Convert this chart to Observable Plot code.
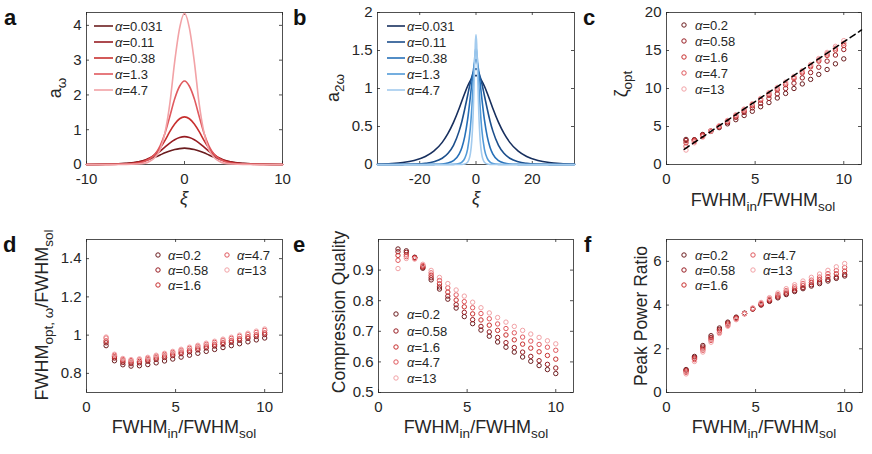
<!DOCTYPE html>
<html><head><meta charset="utf-8">
<script src="https://cdn.jsdelivr.net/npm/d3@7"></script>
<script src="https://cdn.jsdelivr.net/npm/@observablehq/plot@0.6"></script>
<style>
body{margin:0;background:#fff}
#fig{position:relative;width:872px;height:454px;background:#fff;overflow:hidden}
</style>
</head><body><div id="fig"></div>
<script>
// ---------- DATA ----------
const alphasAB = ["0.031", "0.11", "0.38", "1.3", "4.7"];
const alphasS = ["0.2", "0.58", "1.6", "4.7", "13"];

// panel a
const aXi = [-10,-8,-7,-6,-5,-4,-3.5,-3,-2.5,-2,-1.5,-1,-0.5,0,0.5,1,1.5,2,2.5,3,3.5,4,5,6,7,8,10];
const aY_0031 = [0.002,0.0075,0.014,0.031,0.06,0.119,0.16,0.213,0.273,0.335,0.389,0.429,0.456,0.47,0.456,0.429,0.389,0.335,0.273,0.213,0.16,0.119,0.06,0.031,0.014,0.0075,0.002];
const aY_011 = [0.001,0.006,0.010,0.024,0.057,0.131,0.192,0.272,0.379,0.50,0.616,0.71,0.774,0.80,0.774,0.71,0.616,0.50,0.379,0.272,0.192,0.131,0.057,0.024,0.010,0.006,0.001];
const aY_038 = [0,0.003,0.008,0.014,0.041,0.11,0.185,0.30,0.466,0.685,0.945,1.165,1.315,1.37,1.315,1.165,0.945,0.685,0.466,0.30,0.185,0.11,0.041,0.014,0.008,0.003,0];
const aY_13 = [0,0,0.004,0.012,0.024,0.096,0.17,0.30,0.53,0.89,1.38,1.89,2.25,2.4,2.25,1.89,1.38,0.89,0.53,0.30,0.17,0.096,0.024,0.012,0.004,0,0];
const aY_47 = [0,0,0,0.003,0.013,0.04,0.10,0.21,0.42,0.90,1.74,2.96,3.92,4.35,3.92,2.96,1.74,0.90,0.42,0.21,0.10,0.04,0.013,0.003,0,0,0];

// panel b
const bXi = [-35,-30,-26,-22,-18,-15,-12,-10,-8,-6,-5,-4,-3,-2,-1.5,-1,-0.5,-0.25,0,0.25,0.5,1,1.5,2,3,4,5,6,8,10,12,15,18,22,26,30,35];
const bY_0031 = [0.006,0.013,0.026,0.053,0.105,0.175,0.291,0.405,0.554,0.736,0.839,0.938,1.029,1.104,1.132,1.153,1.166,1.169,1.17,1.169,1.166,1.153,1.132,1.104,1.029,0.938,0.839,0.736,0.554,0.405,0.291,0.175,0.105,0.053,0.026,0.013,0.006];
const bY_011 = [0,0.001,0.002,0.005,0.015,0.035,0.082,0.144,0.253,0.439,0.570,0.730,0.905,1.079,1.153,1.210,1.247,1.257,1.26,1.257,1.247,1.210,1.153,1.079,0.905,0.730,0.570,0.439,0.253,0.144,0.082,0.035,0.015,0.005,0.002,0.001,0];
const bY_038 = [0,0,0,0,0,0.002,0.007,0.019,0.051,0.137,0.225,0.367,0.587,0.894,1.066,1.223,1.338,1.369,1.38,1.369,1.338,1.223,1.066,0.894,0.587,0.367,0.225,0.137,0.051,0.019,0.007,0.002,0,0,0,0,0];
const bY_13 = [0,0,0,0,0,0,0,0,0.002,0.013,0.032,0.081,0.199,0.484,0.735,1.060,1.385,1.491,1.53,1.491,1.385,1.060,0.735,0.484,0.199,0.081,0.032,0.013,0.002,0,0,0,0,0,0,0,0];
const bY_47 = [0,0,0,0,0,0,0,0,0,0,0.001,0.006,0.029,0.143,0.314,0.671,1.284,1.583,1.71,1.583,1.284,0.671,0.314,0.143,0.029,0.006,0.001,0,0,0,0,0,0,0,0,0,0];

// shared x for scatter panels (FWHM_in / FWHM_sol)
const sX = [1.1,1.57,2.04,2.5,2.97,3.44,3.91,4.38,4.84,5.31,5.78,6.25,6.72,7.19,7.66,8.13,8.59,9.06,9.53,10];

// panel c: zeta_opt
const cY_02  = [3.3,3.25,3.95,4.35,4.85,5.35,5.9,6.45,7.0,7.6,8.15,8.75,9.35,10.0,10.6,11.2,11.85,12.5,13.25,13.9];
const cY_058 = [3.15,3.25,3.9,4.4,4.95,5.55,6.2,6.85,7.45,8.05,8.7,9.3,10.0,10.7,11.4,12.1,12.8,13.6,14.4,15.13];
const cY_16  = [2.85,3.15,3.8,4.4,5.0,5.65,6.35,7.05,7.75,8.45,9.1,9.8,10.5,11.3,12.05,12.85,13.6,14.35,15.05,15.66];
const cY_47  = [2.4,3.0,3.7,4.4,5.05,5.75,6.45,7.2,7.9,8.6,9.3,10.0,10.7,11.45,12.2,13.0,13.75,14.55,15.3,15.96];
const cY_13  = [1.9,2.85,3.6,4.4,5.1,5.8,6.55,7.3,8.0,8.7,9.45,10.15,10.85,11.6,12.35,13.15,13.95,14.75,15.55,16.3];
const cFitX = [1, 11];
const cFitY = [2.0, 17.7];

// panel d: FWHM_opt / FWHM_sol
const dY_02  = [0.945,0.866,0.845,0.838,0.84,0.846,0.855,0.865,0.875,0.885,0.895,0.905,0.915,0.925,0.935,0.945,0.955,0.965,0.975,0.985];
const dY_058 = [0.96,0.88,0.857,0.851,0.855,0.863,0.873,0.883,0.893,0.903,0.913,0.923,0.933,0.943,0.953,0.963,0.973,0.983,0.993,1.003];
const dY_16  = [0.97,0.887,0.865,0.859,0.863,0.871,0.881,0.891,0.901,0.911,0.921,0.932,0.942,0.952,0.962,0.972,0.982,0.992,1.002,1.012];
const dY_47  = [0.985,0.895,0.873,0.867,0.871,0.879,0.89,0.9,0.91,0.921,0.931,0.942,0.952,0.962,0.973,0.983,0.994,1.004,1.014,1.025];
const dY_13  = [0.99,0.90,0.878,0.872,0.876,0.884,0.895,0.905,0.915,0.926,0.937,0.947,0.958,0.968,0.979,0.989,1.0,1.01,1.021,1.032];

// panel e: compression quality
const eY_02  = [0.969,0.963,0.942,0.906,0.868,0.838,0.805,0.776,0.748,0.725,0.704,0.684,0.665,0.648,0.632,0.616,0.602,0.588,0.575,0.562];
const eY_058 = [0.960,0.958,0.941,0.909,0.875,0.845,0.815,0.787,0.762,0.738,0.716,0.698,0.680,0.663,0.647,0.632,0.618,0.604,0.592,0.580];
const eY_16  = [0.948,0.950,0.940,0.912,0.883,0.855,0.828,0.802,0.780,0.757,0.737,0.720,0.703,0.688,0.672,0.658,0.645,0.633,0.621,0.609];
const eY_47  = [0.932,0.944,0.938,0.915,0.891,0.866,0.842,0.819,0.797,0.777,0.758,0.741,0.724,0.709,0.695,0.681,0.668,0.657,0.648,0.638];
const eY_13  = [0.905,0.938,0.936,0.919,0.899,0.876,0.856,0.835,0.815,0.795,0.777,0.760,0.745,0.730,0.716,0.703,0.691,0.680,0.669,0.659];

// panel f: peak power ratio
const fY_02  = [1.05,1.65,2.15,2.6,2.95,3.22,3.45,3.63,3.82,4.0,4.17,4.33,4.48,4.62,4.75,4.87,4.98,5.1,5.22,5.33];
const fY_058 = [1.02,1.6,2.08,2.52,2.88,3.18,3.42,3.62,3.82,4.02,4.2,4.37,4.52,4.67,4.8,4.93,5.05,5.17,5.28,5.4];
const fY_16  = [0.98,1.55,2.0,2.45,2.82,3.13,3.4,3.61,3.83,4.05,4.24,4.42,4.59,4.75,4.89,5.03,5.16,5.3,5.43,5.55];
const fY_47  = [0.92,1.5,1.93,2.38,2.75,3.07,3.36,3.6,3.85,4.08,4.28,4.48,4.66,4.83,4.99,5.14,5.28,5.44,5.58,5.72];
const fY_13  = [0.85,1.42,1.85,2.3,2.7,3.03,3.33,3.6,3.87,4.12,4.34,4.55,4.75,4.93,5.1,5.27,5.42,5.59,5.75,5.9];

// ticks
const aXTicks = [-10, 0, 10], aYTicks = [0, 1, 2, 3, 4];
const bXTicks = [-20, 0, 20], bYTicks = [0, 0.5, 1, 1.5, 2];
const sXTicks = [0, 5, 10];
const cYTicks = [0, 5, 10, 15, 20];
const dYTicks = [0.8, 1, 1.2, 1.4];
const eYTicks = [0.5, 0.6, 0.7, 0.8, 0.9];
const fYTicks = [0, 2, 4, 6];

// ---------- STYLE ----------
const FONT = '"Liberation Sans", Arial, Helvetica, sans-serif';
const INK = "#262626";
const redsA = ["#6b1d1f", "#971c22", "#c8302f", "#e0595e", "#f2a2a6"];
const bluesB = ["#172f5e", "#1c4f8c", "#2670b8", "#529ad8", "#a3cbee"];
const redsS = ["#6b1d1f", "#971c22", "#c8302f", "#e0595e", "#f2a2a6"];

const fig = document.getElementById("fig");

function lineMarks(xs, ys, colors) {
  return ys.map((ya, k) => Plot.line(xs.map((x, i) => ({x, y: ya[i]})),
    {x: "x", y: "y", stroke: colors[k], strokeWidth: 1.6, curve: "monotone-x"}));
}
function dotMarks(xs, ys, colors) {
  return ys.map((ya, k) => Plot.dot(xs.map((x, i) => ({x, y: ya[i]})),
    {x: "x", y: "y", r: 2.2, stroke: colors[k], strokeWidth: 1, fill: "none"}));
}

function panel(o) {
  const fw = o.width - o.mL - o.mR, fh = o.height - o.mT - o.mB;
  const tk = {stroke: INK, strokeWidth: 0.8};
  const marks = [
    Plot.frame({stroke: INK, strokeWidth: 0.8}),
    Plot.tickX(o.xTicks, {x: d => d, insetTop: fh - 3, ...tk}),
    Plot.tickX(o.xTicks, {x: d => d, insetBottom: fh - 3, ...tk}),
    Plot.tickY(o.yTicks, {y: d => d, insetRight: fw - 3, ...tk}),
    Plot.tickY(o.yTicks, {y: d => d, insetLeft: fw - 3, ...tk}),
    Plot.axisX({ticks: o.xTicks, tickSize: 0, tickPadding: 9, tickFormat: d => String(d), label: null}),
    Plot.axisY({ticks: o.yTicks, tickSize: 0, tickPadding: 5, tickFormat: d => String(d), label: null}),
    ...o.marks
  ];
  const svg = Plot.plot({
    width: o.width, height: o.height,
    marginLeft: o.mL, marginRight: o.mR, marginTop: o.mT, marginBottom: o.mB,
    x: {domain: o.xDomain}, y: {domain: o.yDomain},
    style: {fontFamily: FONT, fontSize: "15px", color: INK, background: "transparent", overflow: "visible"},
    marks
  });
  svg.style.position = "absolute";
  svg.style.left = o.left + "px";
  svg.style.top = o.top + "px";
  fig.appendChild(svg);
  return d3.select(svg);
}

function label(sel, x, y, parts, rotate, size = 18) {
  const t = sel.append("text")
    .attr("transform", `translate(${x},${y})` + (rotate ? " rotate(-90)" : ""))
    .attr("text-anchor", "middle").attr("font-family", FONT)
    .attr("font-size", size).attr("fill", INK);
  let shift = 0;
  parts.forEach(p => {
    const ts = t.append("tspan").text(p.t);
    const target = p.sub ? size * 0.3 : 0;
    if (target !== shift) { ts.attr("dy", target - shift); shift = target; }
    ts.attr("font-size", p.sub ? size * 0.75 : size);
    if (p.it) ts.attr("font-style", "italic");
  });
  return t;
}

function legendText(sel, x, y, a) {
  const t = sel.append("text").attr("x", x).attr("y", y).attr("dy", "0.35em")
    .attr("text-anchor", "start")
    .attr("font-family", FONT).attr("font-size", 13).attr("fill", INK);
  t.append("tspan").attr("font-style", "italic").text("α");
  t.append("tspan").text("=" + a);
}
function legendLines(sel, x0, x1, tx, rows, labels, colors) {
  labels.forEach((a, i) => {
    sel.append("line").attr("x1", x0).attr("x2", x1).attr("y1", rows[i]).attr("y2", rows[i])
      .attr("stroke", colors[i]).attr("stroke-width", 1.6);
    legendText(sel, tx, rows[i], a);
  });
}
function legendDots(sel, entries, labels, colors) {
  labels.forEach((a, i) => {
    const [cx, tx, y] = entries[i];
    sel.append("circle").attr("cx", cx).attr("cy", y).attr("r", 2.2)
      .attr("fill", "none").attr("stroke", colors[i]).attr("stroke-width", 1);
    legendText(sel, tx, y, a);
  });
}

// ---------- PANEL a ----------
const A = panel({left: 0, top: 0, width: 290, height: 225, mL: 86, mR: 8, mT: 12, mB: 61,
  xDomain: [-10, 10], yDomain: [0, 4.37], xTicks: aXTicks, yTicks: aYTicks,
  marks: lineMarks(aXi, [aY_0031, aY_011, aY_038, aY_13, aY_47], redsA)});
legendLines(A, 94, 113, 115, [26, 42, 58, 74, 90], alphasAB, redsA);
label(A, 61, 88, [{t: "a"}, {t: "ω", sub: true}], true);
label(A, 184, 204, [{t: "ξ", it: true}], false);

// ---------- PANEL b ----------
const B = panel({left: 290, top: 0, width: 290, height: 225, mL: 87, mR: 6, mT: 12, mB: 61,
  xDomain: [-35, 35], yDomain: [0, 2], xTicks: bXTicks, yTicks: bYTicks,
  marks: lineMarks(bXi, [bY_0031, bY_011, bY_038, bY_13, bY_47], bluesB)});
legendLines(B, 97, 115, 117, [26, 42, 58, 74, 90], alphasAB, bluesB);
label(B, 48.5, 88, [{t: "a"}, {t: "2ω", sub: true}], true);
label(B, 186, 204, [{t: "ξ", it: true}], false);

// ---------- PANEL c ----------
const C = panel({left: 580, top: 0, width: 292, height: 225, mL: 86, mR: 11, mT: 12, mB: 61,
  xDomain: [0, 11], yDomain: [0, 20], xTicks: sXTicks, yTicks: cYTicks,
  marks: [...dotMarks(sX, [cY_02, cY_058, cY_16, cY_47, cY_13], redsS),
    Plot.line(cFitX.map((x, i) => ({x, y: cFitY[i]})), {x: "x", y: "y", stroke: "#000", strokeWidth: 1.5, strokeDasharray: "6,4"})]});
legendDots(C, [[104,115,25],[104,115,41],[104,115,57],[104,115,73],[104,115,89]], alphasS, redsS);
label(C, 47, 84, [{t: "ζ"}, {t: "opt", sub: true}], true);
label(C, 183, 206, [{t: "FWHM"}, {t: "in", sub: true}, {t: "/FWHM"}, {t: "sol", sub: true}], false);

// ---------- PANEL d ----------
const D = panel({left: 0, top: 225, width: 290, height: 229, mL: 86, mR: 8, mT: 14, mB: 62,
  xDomain: [0, 11], yDomain: [0.7, 1.5], xTicks: sXTicks, yTicks: dYTicks,
  marks: dotMarks(sX, [dY_02, dY_058, dY_16, dY_47, dY_13], redsS)});
legendDots(D, [[158,168,30],[158,168,45],[158,168,60],[227,237,30],[227,237,45]], alphasS, redsS);
label(D, 48, 90, [{t: "FWHM"}, {t: "opt, ω", sub: true}, {t: "/FWHM"}, {t: "sol", sub: true}], true);
label(D, 184, 208, [{t: "FWHM"}, {t: "in", sub: true}, {t: "/FWHM"}, {t: "sol", sub: true}], false);

// ---------- PANEL e ----------
const E = panel({left: 290, top: 225, width: 290, height: 229, mL: 88, mR: 7, mT: 14, mB: 62,
  xDomain: [0, 11], yDomain: [0.5, 1.0], xTicks: sXTicks, yTicks: eYTicks,
  marks: dotMarks(sX, [eY_02, eY_058, eY_16, eY_47, eY_13], redsS)});
legendDots(E, [[106,117,89],[106,117,106],[106,117,122],[106,117,137],[106,117,153]], alphasS, redsS);
label(E, 55, 87, [{t: "Compression Quality"}], true, 17.5);
label(E, 186, 208, [{t: "FWHM"}, {t: "in", sub: true}, {t: "/FWHM"}, {t: "sol", sub: true}], false);

// ---------- PANEL f ----------
const F = panel({left: 580, top: 225, width: 292, height: 229, mL: 86, mR: 10, mT: 14, mB: 62,
  xDomain: [0, 11], yDomain: [0, 7], xTicks: sXTicks, yTicks: fYTicks,
  marks: dotMarks(sX, [fY_02, fY_058, fY_16, fY_47, fY_13], redsS)});
legendDots(F, [[104,115,30],[104,115,45],[104,115,60],[173,183,30],[173,183,45]], alphasS, redsS);
label(F, 67, 91, [{t: "Peak Power Ratio"}], true, 17.5);
label(F, 184, 208, [{t: "FWHM"}, {t: "in", sub: true}, {t: "/FWHM"}, {t: "sol", sub: true}], false);

// ---------- panel letters ----------
const overlay = d3.select(fig).append("svg").attr("width", 872).attr("height", 454)
  .style("position", "absolute").style("left", "0px").style("top", "0px").style("pointer-events", "none");
[["a", 4, 25], ["b", 293, 25], ["c", 583, 25], ["d", 3, 252], ["e", 293, 252], ["f", 584, 252]]
  .forEach(([t, x, y]) => overlay.append("text").attr("x", x).attr("y", y).text(t)
    .attr("font-family", FONT).attr("font-weight", "bold").attr("font-size", 22).attr("fill", "#111"));
</script>
</body></html>
